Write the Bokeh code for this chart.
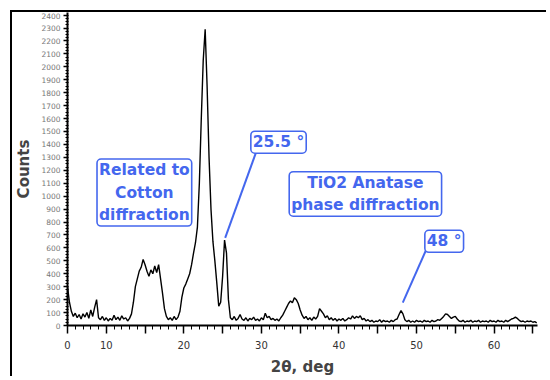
import numpy as np
from bokeh.plotting import figure
from bokeh.models import FixedTicker, Label, Range1d
from bokeh.embed import file_html
from bokeh.resources import INLINE

# ---------------- data (step scan) ----------------
scan_start = 5.0      # deg 2-theta
scan_step = 0.25      # deg
counts = [
    300, 180, 110, 70, 95, 60, 85, 50, 90, 65, 100, 55, 120, 70, 140, 200,   # 5.00 - 8.75
    60, 45, 70, 40, 60, 35, 55, 40, 80, 45, 65, 40, 75, 50, 60, 35,          # 9.00 - 12.75
    55, 90, 180, 300, 360, 420, 450, 510, 470, 420, 380, 430, 400, 460, 410, 470,  # 13.00 - 16.75
    360, 250, 130, 70, 45, 60, 40, 70, 45, 65, 110, 220,                     # 17.00 - 19.75
    290, 320, 360, 400, 470, 560, 640, 760, 1100, 1600, 2050, 2290,          # 20.00 - 22.75
    1850, 1300, 900, 650, 500, 330, 150, 180, 380, 660, 560, 200,            # 23.00 - 25.75
    60, 45, 70, 40, 55, 85, 50, 40, 60, 35, 55, 45, 65, 40, 50, 35,          # 26.00 - 29.75
    60, 45, 95, 60, 70, 45, 55, 40, 50, 35, 60, 80, 110, 140, 170, 190,      # 30.00 - 33.75
    175, 215, 200, 170, 120, 80, 55, 70, 45, 60, 40, 65, 50, 70, 130, 110,   # 34.00 - 37.75
    90, 60, 75, 45, 60, 40, 55, 35, 50, 40, 55, 35, 45, 60, 50, 75,          # 38.00 - 41.75
    55, 70, 60, 75, 45, 55, 35, 45, 30, 40, 25, 35, 30, 45, 25, 40,          # 42.00 - 45.75
    30, 35, 25, 40, 30, 45, 50, 85, 115, 90, 45, 30, 40, 25, 35, 25,         # 46.00 - 49.75
    40, 30, 35, 25, 40, 30, 35, 25, 40, 30, 35, 45, 40, 55, 70, 90,          # 50.00 - 53.75
    85, 70, 55, 65, 70, 50, 35, 30, 40, 25, 35, 30, 40, 25, 35, 30,          # 54.00 - 57.75
    40, 25, 35, 30, 35, 25, 40, 30, 35, 25, 40, 30, 35, 25, 40, 30,          # 58.00 - 61.75
    40, 50, 55, 65, 55, 40, 30, 35, 25, 35, 30, 35, 25, 30, 20,              # 62.00 - 65.50
]
two_theta = [scan_start + i * scan_step for i in range(len(counts))]

x_ticks = [5, 10, 15, 20, 25, 30, 35, 40, 45, 50, 55, 60, 65]
x_tick_labels = {5: "0", 10: "10", 15: "", 20: "20", 25: "", 30: "30", 35: "",
                 40: "40", 45: "", 50: "50", 55: "", 60: "60", 65: ""}
x_minor_ticks = list(range(5, 66))
y_ticks = list(range(0, 2401, 100))
y_minor_ticks = list(range(0, 2420, 25))

note_texts = ["Related to\nCotton\ndiffraction", "25.5 \u00b0",
              "TiO2 Anatase\nphase diffraction", "48 \u00b0"]

# ---------------- layout / style ----------------
BLUE = "#4467EE"
FONT = "DejaVu Sans"

p = figure(width=536, height=366, output_backend="svg", toolbar_location=None,
           x_range=Range1d(5, 65.6), y_range=Range1d(0, 2420),
           min_border_left=54, min_border_right=11, min_border_top=0,
           min_border_bottom=52)
p.margin = (10, 0, 0, 10)
p.styles = {"border-top": "2px solid black", "border-left": "2px solid black"}
p.grid.visible = False
p.outline_line_color = None
p.background_fill_color = "white"
p.border_fill_color = "white"

p.line(two_theta, counts, color="black", line_width=1.4)

# x axis
xa = p.xaxis[0]
xa.ticker = FixedTicker(ticks=x_ticks, minor_ticks=x_minor_ticks)
xa.major_label_overrides = x_tick_labels
xa.axis_line_width = 2
xa.major_tick_out = 8
xa.major_tick_in = 0
xa.minor_tick_out = 4
xa.minor_tick_in = 0
xa.major_tick_line_width = 1.5
xa.major_label_standoff = 7
xa.major_label_text_font = FONT
xa.major_label_text_font_size = "10px"
xa.major_label_text_color = "#333333"
xa.axis_label = "2\u03b8, deg"
xa.axis_label_text_font = FONT
xa.axis_label_text_font_style = "bold"
xa.axis_label_text_font_size = "15px"
xa.axis_label_standoff = 6

# y axis
ya = p.yaxis[0]
ya.ticker = FixedTicker(ticks=y_ticks, minor_ticks=y_minor_ticks)
ya.axis_line_width = 2
ya.major_tick_out = 4
ya.major_tick_in = 0
ya.minor_tick_out = 2
ya.minor_tick_in = 1
ya.major_tick_line_width = 1.5
ya.major_label_standoff = 3
ya.major_label_text_font = FONT
ya.major_label_text_font_size = "7.5px"
ya.major_label_text_color = "#777777"
ya.axis_label = "Counts"
ya.axis_label_text_font = FONT
ya.axis_label_text_font_style = "bold"
ya.axis_label_text_font_size = "15px"
ya.axis_label_standoff = 5

# annotation boxes
note_pos = [(14.91, 1028), (32.21, 1417), (43.41, 1017), (53.57, 651)]
for txt, (nx, ny) in zip(note_texts, note_pos):
    p.add_layout(Label(x=nx, y=ny, text=txt, text_font=FONT, text_font_size="15.5px",
                       text_font_style="bold", text_color=BLUE, text_align="center",
                       text_baseline="middle", text_line_height=1.25,
                       background_fill_color="white", border_line_color=BLUE,
                       border_line_width=1.6, border_radius=4, padding=2))

# leader lines
p.line([29.32, 25.33], [1340, 678], color=BLUE, line_width=2)
p.line([51.19, 48.23], [578, 177], color=BLUE, line_width=2)

open("out.html", "w").write(file_html(p, INLINE))
